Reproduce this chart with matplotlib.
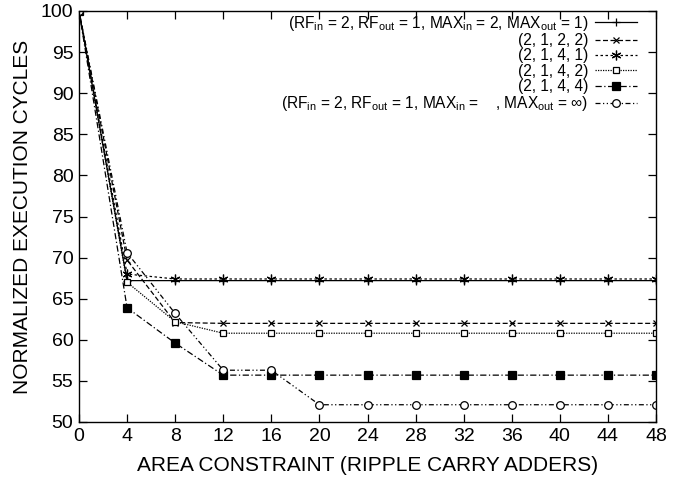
import matplotlib
matplotlib.use("Agg")
import matplotlib.pyplot as plt
import numpy as np

plt.rcParams['font.family'] = ['Liberation Sans', 'DejaVu Sans']
plt.rcParams['mathtext.fontset'] = 'custom'
plt.rcParams['mathtext.rm'] = 'Liberation Sans'
plt.rcParams['mathtext.it'] = 'Liberation Sans'

# area constraint (number of ripple carry adders)
area = [0, 4, 8, 12, 16, 20, 24, 28, 32, 36, 40, 44, 48]

cyc_2_1_2_1 = [100, 67.2, 67.2, 67.2, 67.2, 67.2, 67.2, 67.2, 67.2, 67.2, 67.2, 67.2, 67.2]
cyc_2_1_2_2 = [100, 69.7, 62.1, 62.0, 62.0, 62.0, 62.0, 62.0, 62.0, 62.0, 62.0, 62.0, 62.0]
cyc_2_1_4_1 = [100, 68.0, 67.4, 67.4, 67.4, 67.4, 67.4, 67.4, 67.4, 67.4, 67.4, 67.4, 67.4]
cyc_2_1_4_2 = [100, 67.0, 62.2, 60.8, 60.8, 60.8, 60.8, 60.8, 60.8, 60.8, 60.8, 60.8, 60.8]
cyc_2_1_4_4 = [100, 63.9, 59.6, 55.7, 55.7, 55.7, 55.7, 55.7, 55.7, 55.7, 55.7, 55.7, 55.7]
cyc_2_1_inf = [100, 70.6, 63.2, 56.3, 56.3, 52.1, 52.1, 52.1, 52.1, 52.1, 52.1, 52.1, 52.1]

labels = [
    r'(RF$_{\rm in}$ = 2, RF$_{\rm out}$ = 1, MAX$_{\rm in}$ = 2, MAX$_{\rm out}$ = 1)',
    '(2, 1, 2, 2)',
    '(2, 1, 4, 1)',
    '(2, 1, 4, 2)',
    '(2, 1, 4, 4)',
    r'(RF$_{\rm in}$ = 2, RF$_{\rm out}$ = 1, MAX$_{\rm in}$ =    , MAX$_{\rm out}$ = $\infty$)',
]

fig = plt.figure(figsize=(6.79, 4.78), dpi=100)
ax = fig.add_axes([79/679, 1-422/478, (656-79)/679, (422-11)/478])

kw = dict(color='black', lw=0.9, mew=0.9)
ax.plot(area, cyc_2_1_2_1, linestyle='-', marker='+', ms=6, label=labels[0], **kw)
ax.plot(area, cyc_2_1_2_2, linestyle=(0, (4, 2)), marker='x', ms=5, label=labels[1], **kw)
ax.plot(area, cyc_2_1_4_1, linestyle=(0, (2, 2)), marker=(6, 2, 0), ms=7, label=labels[2], **kw)
ax.plot(area, cyc_2_1_4_2, linestyle=(0, (1, 1)), marker='s', mfc='white', ms=5, label=labels[3], **kw)
ax.plot(area, cyc_2_1_4_4, linestyle=(0, (5, 2, 1, 2)), marker='s', mfc='black', ms=5.5, label=labels[4], **kw)
ax.plot(area, cyc_2_1_inf, linestyle=(0, (4, 2, 1, 2, 1, 2)), marker='o', mfc='white', ms=5.5, label=labels[5], **kw)

ax.set_xlim(0, 48)
ax.set_ylim(50, 100)
ax.set_xticks(area)
ax.set_yticks(np.arange(50, 101, 5))
ax.tick_params(direction='in', top=True, right=True, length=6, labelsize=14, width=0.9, pad=4)
for s in ax.spines.values():
    s.set_linewidth(1.0)

ax.set_xlabel('AREA CONSTRAINT (RIPPLE CARRY ADDERS)', fontsize=15, labelpad=8)
ax.set_ylabel('NORMALIZED EXECUTION CYCLES', fontsize=15, labelpad=6)

ax.legend(loc='upper right', bbox_to_anchor=(0.969, 0.995), frameon=False,
          markerfirst=False, fontsize=11.2, handlelength=2.7, labelspacing=0.02,
          handletextpad=0.45, borderaxespad=0.0, borderpad=0.05)

fig.savefig('out.png', dpi=100)
